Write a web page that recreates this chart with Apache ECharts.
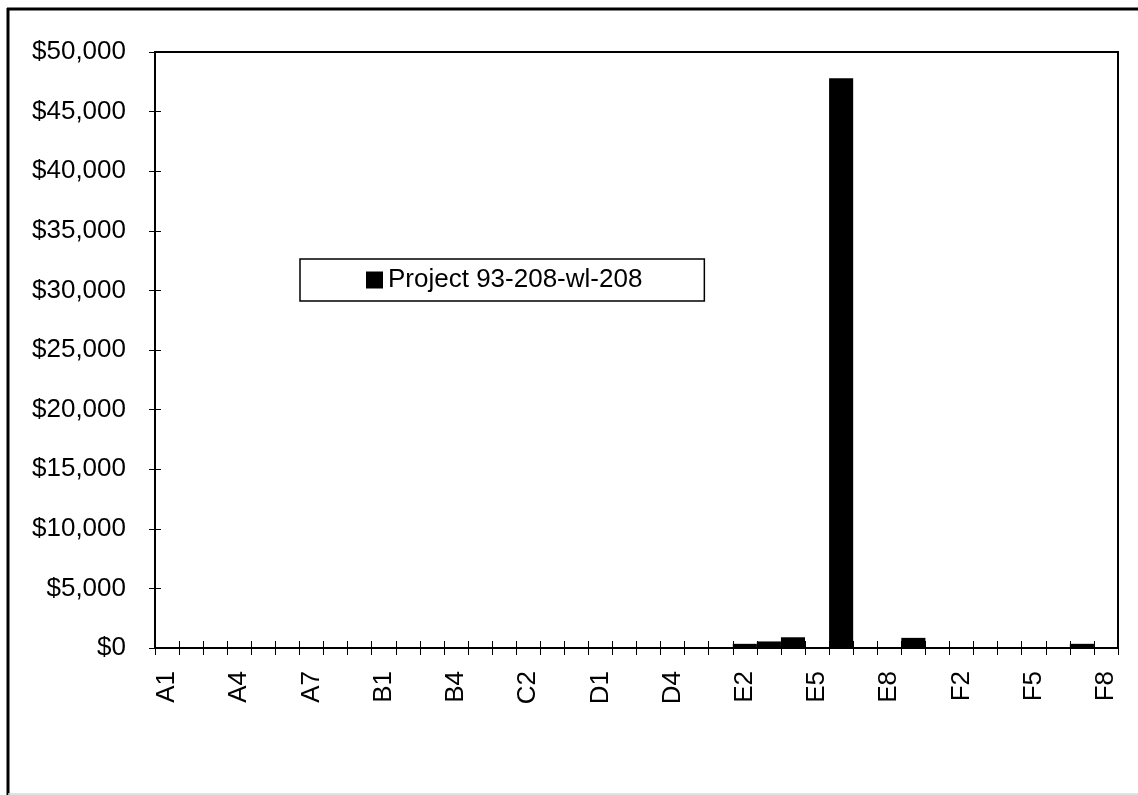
<!DOCTYPE html>
<html>
<head>
<meta charset="utf-8">
<script src="https://cdn.jsdelivr.net/npm/echarts@6/dist/echarts.min.js"></script>
<style>
html,body{margin:0;padding:0;background:#fff;}
#chart{width:1138px;height:795px;}
</style>
</head>
<body>
<div id="chart"></div>
<script>
const categories = [
  'A1','A2','A3','A4','A5','A6','A7','A8','A9',
  'B1','B2','B3','B4','B5',
  'C1','C2','C3','C4',
  'D1','D2','D3','D4','D5',
  'E1','E2','E3','E4','E5','E6','E7','E8','E9',
  'F1','F2','F3','F4','F5','F6','F7','F8'
];
const seriesName = 'Project 93-208-wl-208';
const values = [
  0,0,0,0,0,0,0,0,0,
  0,0,0,0,0,
  0,0,0,0,
  0,0,0,0,0,
  0,350,550,900,0,47800,0,0,850,
  0,0,0,0,0,0,350,0
];
const yTicks = { min: 0, max: 50000, interval: 5000 };

const FONT = '"Liberation Sans", Arial, sans-serif';
const chart = echarts.init(document.getElementById('chart'), null, {renderer: 'canvas'});

function money(v) {
  return '$' + v.toString().replace(/\B(?=(\d{3})+(?!\d))/g, ',');
}

chart.setOption({
  animation: false,
  backgroundColor: '#fff',
  grid: {
    left: 155, right: 20, top: 52, bottom: 147,
    show: true, borderColor: '#000', borderWidth: 2, backgroundColor: 'transparent'
  },
  legend: {
    data: [seriesName],
    left: 300, top: 259,
    orient: 'horizontal',
    padding: [8, 62, 8, 66],
    borderColor: '#000', borderWidth: 1.5, backgroundColor: '#fff',
    itemWidth: 17, itemHeight: 17,
    icon: 'rect',
    textStyle: { fontFamily: FONT, fontSize: 26, color: '#000' }
  },
  xAxis: [{
    type: 'category',
    data: categories,
    position: 'bottom',
    axisLine: { show: true, lineStyle: { color: '#000', width: 2 } },
    axisTick: { show: true, interval: 0, length: 7, lineStyle: { color: '#000', width: 1 } },
    axisLabel: { interval: 2, rotate: 90, margin: 23, fontFamily: FONT, fontSize: 26, color: '#000' },
    splitLine: { show: false }
  }, {
    type: 'category',
    data: categories,
    position: 'bottom',
    axisLine: { show: false },
    axisTick: { show: true, inside: true, interval: 0, length: 7, lineStyle: { color: '#000', width: 1 } },
    axisLabel: { show: false },
    splitLine: { show: false }
  }],
  yAxis: [{
    type: 'value',
    min: yTicks.min, max: yTicks.max, interval: yTicks.interval,
    axisLine: { show: true, lineStyle: { color: '#000', width: 2 } },
    axisTick: { show: true, length: 6, lineStyle: { color: '#000', width: 1 } },
    axisLabel: { margin: 29, fontFamily: FONT, fontSize: 26, color: '#000', formatter: money },
    splitLine: { show: false }
  }, {
    type: 'value',
    position: 'left',
    min: yTicks.min, max: yTicks.max, interval: yTicks.interval,
    axisLine: { show: false },
    axisTick: { show: true, inside: true, length: 6, lineStyle: { color: '#000', width: 1 } },
    axisLabel: { show: false },
    splitLine: { show: false }
  }],
  series: [{
    name: seriesName,
    type: 'bar',
    data: values,
    xAxisIndex: 0, yAxisIndex: 0,
    barCategoryGap: '0%',
    itemStyle: { color: '#000' }
  }],
  graphic: [
    { type: 'line', shape: { x1: 8, y1: 8, x2: 8, y2: 795 }, style: { stroke: '#000', lineWidth: 3 } },
    { type: 'line', shape: { x1: 7, y1: 9, x2: 1138, y2: 9 }, style: { stroke: '#000', lineWidth: 3 } },
    { type: 'line', shape: { x1: 8, y1: 794, x2: 1138, y2: 794 }, style: { stroke: '#d8d8d8', lineWidth: 1.5 } }
  ]
});
</script>
</body>
</html>
